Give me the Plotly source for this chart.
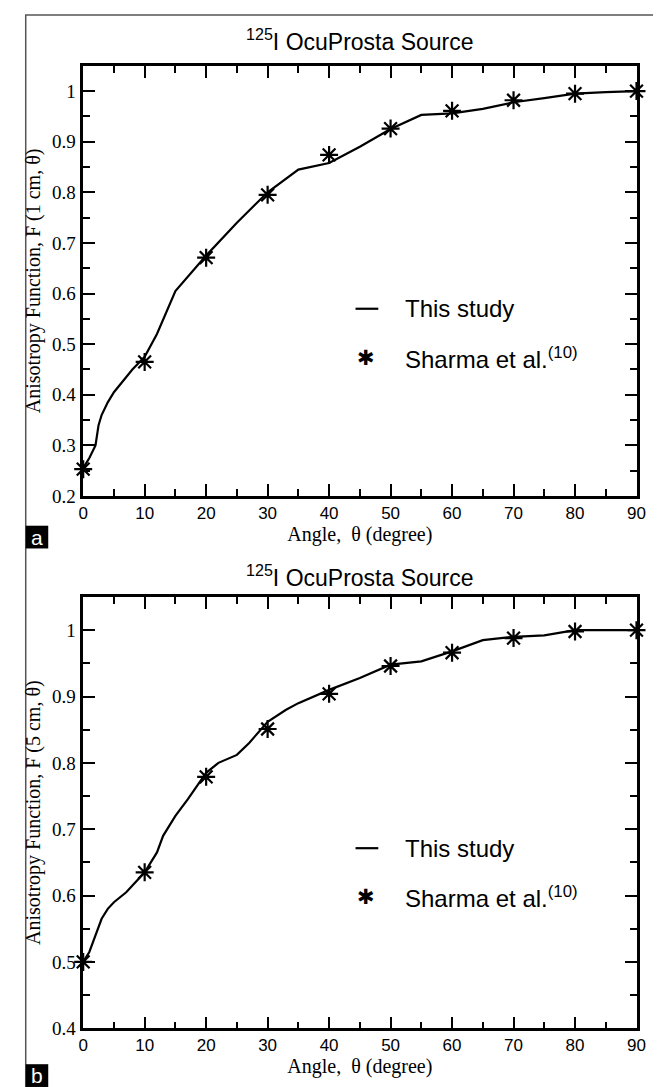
import plotly.graph_objects as go

# ---- data ----
angles_a_line = [0, 1, 2, 2.5, 3, 4, 5, 6, 7, 8, 10, 12, 15, 20, 25, 30, 35, 40, 45, 50, 55, 60, 65, 70, 75, 80, 85, 90]
F1_line = [0.255, 0.275, 0.30, 0.34, 0.36, 0.385, 0.405, 0.42, 0.435, 0.45, 0.475, 0.52, 0.605, 0.675, 0.74, 0.80, 0.845,
           0.858, 0.89, 0.925, 0.953, 0.956, 0.965, 0.978, 0.986, 0.995, 0.998, 1.0]

angles_b_line = [0, 1, 2, 3, 4, 5, 7, 8, 10, 12, 13, 15, 17, 20, 22, 25, 27, 30, 33, 35, 40, 45, 50, 55, 60, 65, 70, 75, 80, 85, 90]
F5_line = [0.50, 0.515, 0.54, 0.565, 0.58, 0.59, 0.605, 0.615, 0.635, 0.665, 0.69, 0.72, 0.745, 0.785, 0.80, 0.812, 0.83,
           0.862, 0.88, 0.89, 0.91, 0.928, 0.948, 0.953, 0.968, 0.985, 0.99, 0.992, 1.0, 1.0, 1.0]

sharma_angles = [0, 10, 20, 30, 40, 50, 60, 70, 80, 90]
sharma_F1 = [0.253, 0.465, 0.671, 0.795, 0.874, 0.926, 0.961, 0.982, 0.995, 1.0]
sharma_F5 = [0.50, 0.635, 0.779, 0.851, 0.904, 0.946, 0.966, 0.988, 0.998, 1.0]

title_text = "<sup>125</sup>I OcuProsta Source"
xlabel = "Angle,  θ (degree)"
ylabel_a = "Anisotropy Function, F (1 cm, θ)"
ylabel_b = "Anisotropy Function, F (5 cm, θ)"
legend_line_text = "This study"
legend_star_text = "Sharma et al.<sup>(10)</sup>"

W, H = 661, 1087
SANS = "Liberation Sans, Arial, sans-serif"
SERIF = "Liberation Serif, Times New Roman, serif"

def px_x(p):
    return p / W

def px_y(p):
    return 1 - p / H

fig = go.Figure()

star_marker = dict(symbol="asterisk-open", size=15, color="black", line=dict(color="black", width=2.2))

# panel a
fig.add_trace(go.Scatter(x=angles_a_line, y=F1_line, mode="lines", line=dict(color="black", width=2.2),
                         xaxis="x", yaxis="y", showlegend=False, cliponaxis=False))
fig.add_trace(go.Scatter(x=sharma_angles, y=sharma_F1, mode="markers", marker=star_marker,
                         xaxis="x", yaxis="y", showlegend=False, cliponaxis=False))
# panel b
fig.add_trace(go.Scatter(x=angles_b_line, y=F5_line, mode="lines", line=dict(color="black", width=2.2),
                         xaxis="x2", yaxis="y2", showlegend=False, cliponaxis=False))
fig.add_trace(go.Scatter(x=sharma_angles, y=sharma_F5, mode="markers", marker=star_marker,
                         xaxis="x2", yaxis="y2", showlegend=False, cliponaxis=False))

xdom = [px_x(71.7), px_x(637)]
ydom_a = [px_y(493), px_y(58.4)]
ydom_b = [px_y(1030.7), px_y(595)]

def xaxis_cfg(anchor):
    return dict(domain=xdom, anchor=anchor, range=[0, 90], dtick=10, tick0=0,
                ticks="inside", ticklen=12, tickwidth=2, tickcolor="black",
                minor=dict(dtick=5, tick0=0, ticks="inside", ticklen=7, tickwidth=2, tickcolor="black"),
                showline=True, linecolor="black", linewidth=2.5, mirror="ticks",
                showgrid=False, zeroline=False,
                tickfont=dict(family=SANS, size=17, color="black"),
                title=dict(text=xlabel, font=dict(family=SERIF, size=20, color="black"), standoff=4))

def yaxis_cfg(anchor, dom, rng, t0, label):
    return dict(domain=dom, anchor=anchor, range=rng, dtick=0.1, tick0=t0,
                ticks="inside", ticklen=12, tickwidth=2, tickcolor="black",
                minor=dict(dtick=0.05, tick0=t0, ticks="inside", ticklen=7, tickwidth=2, tickcolor="black"),
                showline=True, linecolor="black", linewidth=2.5, mirror="ticks",
                showgrid=False, zeroline=False, ticklabelstandoff=1,
                tickfont=dict(family=SERIF, size=19, color="black"),
                title=dict(text=label, font=dict(family=SERIF, size=20, color="black"), standoff=6))

fig.update_layout(
    width=W, height=H,
    margin=dict(l=0, r=0, t=0, b=0),
    paper_bgcolor="white", plot_bgcolor="white",
    showlegend=False,
    xaxis=xaxis_cfg("y"),
    yaxis=yaxis_cfg("x", ydom_a, [0.2, 1.05], 0.2, ylabel_a),
    xaxis2=xaxis_cfg("y2"),
    yaxis2=yaxis_cfg("x2", ydom_b, [0.4, 1.05], 0.4, ylabel_b),
)

shapes = []
annotations = []

# outer frame
shapes.append(dict(type="rect", xref="paper", yref="paper", x0=px_x(13), x1=px_x(658), y0=-0.02, y1=px_y(7),
                   line=dict(color="#555555", width=1.5), fillcolor="rgba(0,0,0,0)", layer="below"))

# panel tags
for tag, top in (("a", 523), ("b", 1067)):
    shapes.append(dict(type="rect", xref="paper", yref="paper", x0=px_x(13), x1=px_x(36), y0=px_y(top + 23), y1=px_y(top),
                       line=dict(width=0), fillcolor="black"))
    annotations.append(dict(text=tag, xref="paper", yref="paper", x=px_x(24.5), y=px_y(top + 11.5),
                            xanchor="center", yanchor="middle", showarrow=False,
                            font=dict(family=SANS, size=21, color="white")))

# titles
xc = (xdom[0] + xdom[1]) / 2
for ycen in (32, 574):
    annotations.append(dict(text=title_text, xref="paper", yref="paper", x=xc, y=px_y(ycen),
                            xanchor="center", yanchor="middle", showarrow=False,
                            font=dict(family=SANS, size=23, color="black")))

# legends (inside each panel)
for xr, yr, yl, ys in (("x", "y", 0.570, 0.472), ("x2", "y2", 0.6714, 0.598)):
    shapes.append(dict(type="line", xref=xr, yref=yr, x0=44.3, x1=48.0, y0=yl, y1=yl,
                       line=dict(color="black", width=2.2)))
    annotations.append(dict(text="✱", xref=xr, yref=yr, x=46.0, y=ys, xanchor="center", yanchor="middle",
                            showarrow=False, font=dict(family="DejaVu Sans", size=21, color="black")))
    annotations.append(dict(text=legend_line_text, xref=xr, yref=yr, x=52.0, y=yl, xanchor="left", yanchor="middle",
                            showarrow=False, font=dict(family=SANS, size=24, color="black")))
    annotations.append(dict(text=legend_star_text, xref=xr, yref=yr, x=52.0, y=ys, xanchor="left", yanchor="middle",
                            showarrow=False, font=dict(family=SANS, size=24, color="black")))

fig.update_layout(shapes=shapes, annotations=annotations)

fig.write_html("out.html")
